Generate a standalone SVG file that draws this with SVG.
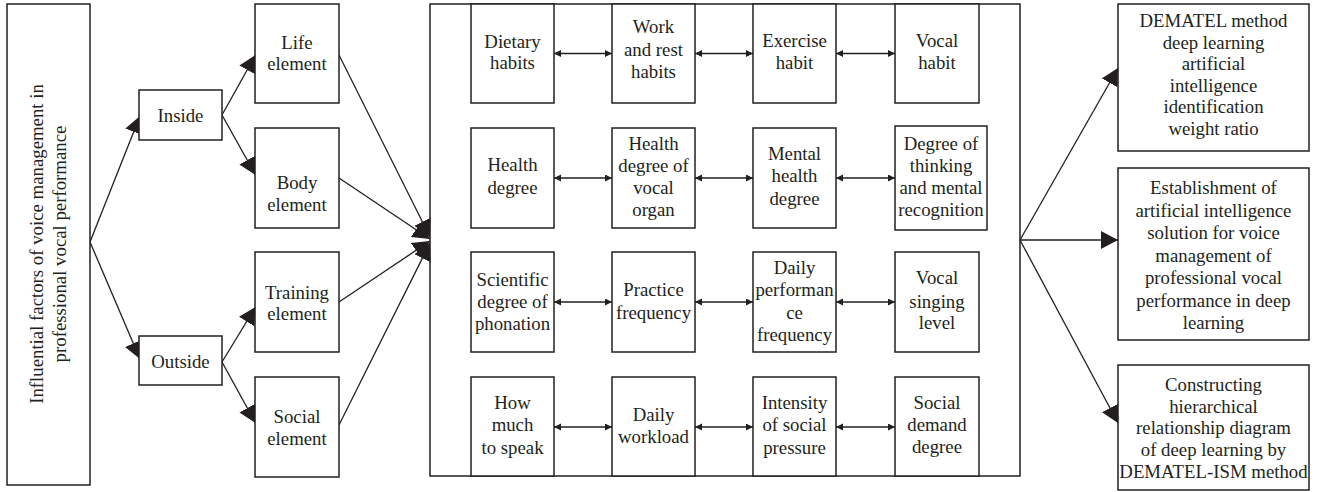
<svg xmlns="http://www.w3.org/2000/svg" width="1319" height="492" viewBox="0 0 1319 492">
<defs>
<style>
.box{fill:#fff;stroke:#231f20;stroke-width:1.5}
.frame{fill:none;stroke:#231f20;stroke-width:1.5}
.ln{fill:none;stroke:#231f20;stroke-width:1.3}
.t{font-family:"Liberation Serif","Times New Roman",serif;font-size:18.8px;fill:#231f20;text-anchor:middle}
</style>
<marker id="big" markerUnits="userSpaceOnUse" markerWidth="18" markerHeight="18" refX="17" refY="9" orient="auto"><path d="M0,0 L17,9 L0,18 z" fill="#231f20"/></marker>
<marker id="sm" markerUnits="userSpaceOnUse" markerWidth="8" markerHeight="8" refX="7" refY="3.5" orient="auto-start-reverse"><path d="M0,0 L7,3.5 L0,7 z" fill="#231f20"/></marker>
</defs>
<rect width="1319" height="492" fill="#fff"/>
<g id="connectors">
<path class="ln" d="M90,242 L140,116" marker-end="url(#big)"/>
<path class="ln" d="M90,242 L140,359" marker-end="url(#big)"/>
<path class="ln" d="M222,115 L255.5,55" marker-end="url(#big)"/>
<path class="ln" d="M222,115 L255.5,175" marker-end="url(#big)"/>
<path class="ln" d="M222,362 L255.5,307" marker-end="url(#big)"/>
<path class="ln" d="M222,362 L255.5,423" marker-end="url(#big)"/>
<path class="ln" d="M339,55 L430,237" marker-end="url(#big)"/>
<path class="ln" d="M339,178 L430,239" marker-end="url(#big)"/>
<path class="ln" d="M339,302 L430,241" marker-end="url(#big)"/>
<path class="ln" d="M339,425 L430,243" marker-end="url(#big)"/>
<path class="ln" d="M1020,240 L1118,68" marker-end="url(#big)"/>
<path class="ln" d="M1020,240 L1118,240" marker-end="url(#big)"/>
<path class="ln" d="M1020,240 L1118,423" marker-end="url(#big)"/>
<path class="ln" d="M554,53.5 L612,53.5" marker-start="url(#sm)" marker-end="url(#sm)"/>
<path class="ln" d="M695,53.5 L753,53.5" marker-start="url(#sm)" marker-end="url(#sm)"/>
<path class="ln" d="M836,53.5 L895,53.5" marker-start="url(#sm)" marker-end="url(#sm)"/>
<path class="ln" d="M554,178 L612,178" marker-start="url(#sm)" marker-end="url(#sm)"/>
<path class="ln" d="M695,178 L753,178" marker-start="url(#sm)" marker-end="url(#sm)"/>
<path class="ln" d="M836,178 L895,178" marker-start="url(#sm)" marker-end="url(#sm)"/>
<path class="ln" d="M554,302 L612,302" marker-start="url(#sm)" marker-end="url(#sm)"/>
<path class="ln" d="M695,302 L753,302" marker-start="url(#sm)" marker-end="url(#sm)"/>
<path class="ln" d="M836,302 L895,302" marker-start="url(#sm)" marker-end="url(#sm)"/>
<path class="ln" d="M554,427 L612,427" marker-start="url(#sm)" marker-end="url(#sm)"/>
<path class="ln" d="M695,427 L753,427" marker-start="url(#sm)" marker-end="url(#sm)"/>
<path class="ln" d="M836,427 L895,427" marker-start="url(#sm)" marker-end="url(#sm)"/>
</g>
<g id="n-root"><rect class="box" x="7" y="4" width="83" height="481"/>
<text class="t" transform="translate(48.5,244) rotate(-90)"><tspan x="0" y="-6">Influential factors of voice management in</tspan><tspan x="0" y="17">professional vocal performance</tspan></text></g>
<g id="n-inside"><rect class="box" x="139" y="90" width="83" height="50"/><text class="t" x="180.5" y="121.5">Inside</text></g>
<g id="n-outside"><rect class="box" x="139" y="336" width="83" height="49"/><text class="t" x="180.5" y="368">Outside</text></g>
<g id="n-life"><rect class="box" x="255" y="4" width="84" height="99"/><text class="t"><tspan x="297" y="49">Life</tspan><tspan x="297" y="70">element</tspan></text></g>
<g id="n-body"><rect class="box" x="255" y="128" width="84" height="100"/><text class="t"><tspan x="297" y="189">Body</tspan><tspan x="297" y="211">element</tspan></text></g>
<g id="n-training"><rect class="box" x="255" y="252" width="84" height="100"/><text class="t"><tspan x="297" y="299">Training</tspan><tspan x="297" y="320">element</tspan></text></g>
<g id="n-social"><rect class="box" x="255" y="377" width="84" height="100"/><text class="t"><tspan x="297" y="423">Social</tspan><tspan x="297" y="445">element</tspan></text></g>
<g id="n-factors"><rect class="frame" x="430" y="4" width="590" height="472"/></g>
<g id="n-dietary"><rect class="box" x="471" y="4" width="83" height="99"/><text class="t"><tspan x="512.5" y="48">Dietary</tspan><tspan x="512.5" y="69">habits</tspan></text></g>
<g id="n-work"><rect class="box" x="612" y="4" width="83" height="99"/><text class="t"><tspan x="653.5" y="33">Work</tspan><tspan x="653.5" y="55.5">and rest</tspan><tspan x="653.5" y="78">habits</tspan></text></g>
<g id="n-exercise"><rect class="box" x="753" y="4" width="83" height="99"/><text class="t"><tspan x="794.5" y="47">Exercise</tspan><tspan x="794.5" y="68.5">habit</tspan></text></g>
<g id="n-vocalhabit"><rect class="box" x="895" y="4" width="84" height="99"/><text class="t"><tspan x="937" y="47">Vocal</tspan><tspan x="937" y="69">habit</tspan></text></g>
<g id="n-health"><rect class="box" x="471" y="128" width="83" height="100"/><text class="t"><tspan x="512.5" y="171">Health</tspan><tspan x="512.5" y="194">degree</tspan></text></g>
<g id="n-organ"><rect class="box" x="612" y="128" width="83" height="100"/><text class="t"><tspan x="653.5" y="149.5">Health</tspan><tspan x="653.5" y="172">degree of</tspan><tspan x="653.5" y="194">vocal</tspan><tspan x="653.5" y="216">organ</tspan></text></g>
<g id="n-mental"><rect class="box" x="753" y="128" width="83" height="100"/><text class="t"><tspan x="794.5" y="160">Mental</tspan><tspan x="794.5" y="182">health</tspan><tspan x="794.5" y="205">degree</tspan></text></g>
<g id="n-thinking"><rect class="box" x="895" y="126" width="92" height="104"/><text class="t"><tspan x="941" y="149.5">Degree of</tspan><tspan x="941" y="172">thinking</tspan><tspan x="941" y="194">and mental</tspan><tspan x="941" y="216">recognition</tspan></text></g>
<g id="n-phonation"><rect class="box" x="471" y="252" width="83" height="100"/><text class="t"><tspan x="512.5" y="286">Scientific</tspan><tspan x="512.5" y="308">degree of</tspan><tspan x="512.5" y="329.5">phonation</tspan></text></g>
<g id="n-practice"><rect class="box" x="612" y="252" width="83" height="100"/><text class="t"><tspan x="653.5" y="296">Practice</tspan><tspan x="653.5" y="318.5">frequency</tspan></text></g>
<g id="n-perf"><rect class="box" x="753" y="252" width="83" height="100"/><text class="t"><tspan x="794.5" y="274">Daily</tspan><tspan x="794.5" y="296">performan</tspan><tspan x="794.5" y="318.5">ce</tspan><tspan x="794.5" y="341">frequency</tspan></text></g>
<g id="n-singing"><rect class="box" x="895" y="252" width="84" height="100"/><text class="t"><tspan x="937" y="284">Vocal</tspan><tspan x="937" y="307.5">singing</tspan><tspan x="937" y="329">level</tspan></text></g>
<g id="n-speak"><rect class="box" x="471" y="377" width="83" height="99"/><text class="t"><tspan x="512.5" y="409">How</tspan><tspan x="512.5" y="431">much</tspan><tspan x="512.5" y="454">to speak</tspan></text></g>
<g id="n-workload"><rect class="box" x="612" y="377" width="83" height="99"/><text class="t"><tspan x="653.5" y="421">Daily</tspan><tspan x="653.5" y="442.5">workload</tspan></text></g>
<g id="n-pressure"><rect class="box" x="753" y="377" width="83" height="99"/><text class="t"><tspan x="794.5" y="409">Intensity</tspan><tspan x="794.5" y="431">of social</tspan><tspan x="794.5" y="454">pressure</tspan></text></g>
<g id="n-demand"><rect class="box" x="895" y="377" width="84" height="99"/><text class="t"><tspan x="937" y="409">Social</tspan><tspan x="937" y="431">demand</tspan><tspan x="937" y="453">degree</tspan></text></g>
<g id="n-dematel"><rect class="box" x="1118" y="4" width="191" height="147"/><text class="t"><tspan x="1213.5" y="27">DEMATEL method</tspan><tspan x="1213.5" y="48.5">deep learning</tspan><tspan x="1213.5" y="70">artificial</tspan><tspan x="1213.5" y="91.5">intelligence</tspan><tspan x="1213.5" y="113">identification</tspan><tspan x="1213.5" y="134.5">weight ratio</tspan></text></g>
<g id="n-establish"><rect class="box" x="1118" y="168" width="191" height="172"/><text class="t"><tspan x="1213.5" y="194">Establishment of</tspan><tspan x="1213.5" y="216.5">artificial intelligence</tspan><tspan x="1213.5" y="239">solution for voice</tspan><tspan x="1213.5" y="261.5">management of</tspan><tspan x="1213.5" y="284">professional vocal</tspan><tspan x="1213.5" y="306.5">performance in deep</tspan><tspan x="1213.5" y="329">learning</tspan></text></g>
<g id="n-construct"><rect class="box" x="1118" y="365" width="191" height="125"/><text class="t"><tspan x="1213.5" y="391">Constructing</tspan><tspan x="1213.5" y="412.5">hierarchical</tspan><tspan x="1213.5" y="434">relationship diagram</tspan><tspan x="1213.5" y="456">of deep learning by</tspan><tspan x="1213.5" y="477.5">DEMATEL-ISM method</tspan></text></g>
</svg>
